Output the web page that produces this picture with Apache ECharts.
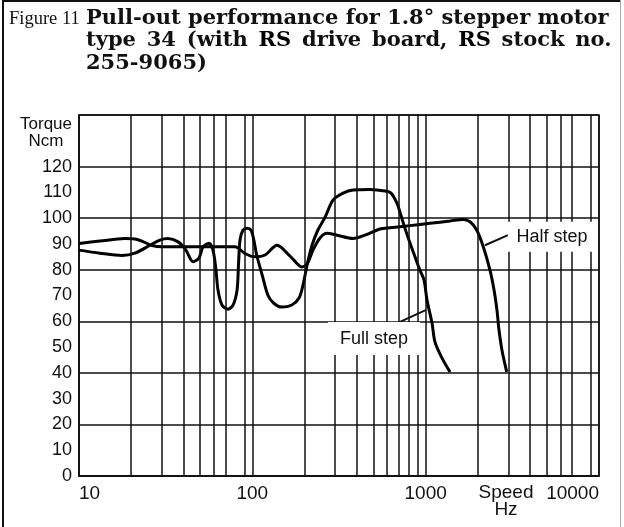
<!DOCTYPE html>
<html>
<head>
<meta charset="utf-8">
<script src="https://cdn.jsdelivr.net/npm/echarts@6/dist/echarts.min.js"></script>
<style>
  html, body { margin: 0; padding: 0; background: #fff; }
  #chart { width: 624px; height: 527px; }
</style>
</head>
<body>
<div id="chart"></div>
<script>
// speed in Hz, torque in Ncm
var fullFreq = [10, 13.2, 17.7, 21.0, 25.7, 29.3, 32.6, 37.3, 41.4, 45.5,
    49.2, 51.9, 56.2, 59.3, 61.7, 63.4, 66.8, 72.4, 77.4, 81.6,
    83.2, 84.9, 88.4, 93.2, 98.2, 102, 106, 114, 123, 133,
    148, 169, 186, 196, 207, 221, 239, 263, 292, 334,
    381, 477, 583, 631, 683, 711, 750, 801, 868, 927,
    978, 1018, 1088, 1132, 1243, 1382];
var fullTorque = [87.6, 86.4, 85.5, 86.4, 89.5, 91.5, 92.1, 90.8, 87.6, 83.1,
    84.5, 88.8, 90.3, 87.6, 79.8, 72, 66.3, 64.7, 66.3, 72,
    81.8, 91.5, 95.4, 96.1, 95.4, 91.5, 85.6, 77.9, 70.1, 67,
    65.5, 66.3, 69, 74, 81.8, 89.5, 95.4, 100.4, 107, 109.7,
    110.9, 111.1, 110.5, 109.7, 105.8, 102.3, 97.2, 91.5, 85, 79.8,
    76, 68.2, 59.3, 51.9, 45.7, 40.3];

var halfFreq = [10, 13.2, 18.4, 21.0, 23.4, 26.4, 30.1, 49.9, 79.4, 90.7,
    103.6, 118.4, 138.8, 165, 193.4, 206.8, 223.9, 245.7, 269.7, 307.9,
    381, 446.7, 545.3, 622, 812, 1059, 1382, 1642, 1803, 1970,
    2150, 2350, 2480, 2579, 2649, 2756, 2934];
var halfTorque = [90.2, 91.1, 92.1, 91.9, 90.9, 89.4, 88.9, 88.9, 88.9, 86.3,
    85, 85.7, 89.5, 85.3, 81.1, 82.2, 87.6, 92.3, 94.1, 93.4,
    92.1, 93.4, 95.8, 96.3, 97.1, 98, 98.9, 99.5, 98.6, 95.4,
    88.9, 79.8, 72.1, 64.3, 56.6, 48.8, 40.4];

// axis ticks
var speedLabels = [10, 100, 1000, 10000];
var torqueLabels = [0, 10, 20, 30, 40, 50, 60, 70, 80, 90, 100, 110, 120];
// the printed grid (80 and 8000 lines are missing in the original)
var speedGrid = [20, 30, 40, 50, 60, 70, 90, 200, 300, 400, 500, 600, 700, 800, 900,
    2000, 3000, 4000, 5000, 6000, 7000, 9000];

// curve labels and their leader lines, in data units
var fullLabelAt = [503, 53.3];
var fullLeader = [[681, 59.2], [1000, 64.3]];
var halfLabelAt = [5350, 92.8];
var halfLeader = [[2199, 89.5], [2985, 93.4]];

function zip(xs, ys) {
    var out = [];
    for (var i = 0; i < xs.length; i++) out.push([xs[i], ys[i]]);
    return out;
}

var sans = 'Liberation Sans';
var serif = 'DejaVu Serif';
var ink = '#111';

// second caption line is justified in print: words joined by wider spaces
var line2 = ['type', '34', '(with', '{rs|RS}', 'drive', 'board,', '{rs|RS}', 'stock', 'no.'];
var line2Rich = line2.map(function (w) {
    return w.charAt(0) === '{' ? w : '{b|' + w + '}';
}).join('{s| }');

var chart = echarts.init(document.getElementById('chart'));

var option = {
    animation: false,
    backgroundColor: '#fff',
    title: [
        {
            text: 'Figure 11',
            left: 9, top: 8, padding: 0,
            textStyle: { fontFamily: 'Liberation Serif', fontWeight: 'normal', fontSize: 18.5, color: ink, lineHeight: 22.5 }
        },
        {
            text: '{b|Pull-out performance for 1.8° stepper motor}\n' +
                  line2Rich + '\n' +
                  '{b|255-9065)}',
            left: 86, top: 7, padding: 0,
            textStyle: {
                rich: {
                    b: { fontFamily: serif, fontWeight: 'bold', fontSize: 21, color: ink, lineHeight: 22.5 },
                    rs: { fontFamily: serif, fontWeight: 900, fontSize: 21, color: '#000', lineHeight: 22.5 },
                    s: { fontFamily: serif, fontWeight: 'bold', fontSize: 21, lineHeight: 22.5, width: 10.8 }
                }
            }
        }
    ],
    graphic: [
        { type: 'line', shape: { x1: 3, y1: 0, x2: 3, y2: 527 }, style: { stroke: ink, lineWidth: 2 } },
        { type: 'line', shape: { x1: 2, y1: 1, x2: 621, y2: 1 }, style: { stroke: ink, lineWidth: 2 } },
        { type: 'line', shape: { x1: 620.5, y1: 0, x2: 620.5, y2: 527 }, style: { stroke: '#aaa', lineWidth: 1 } }
    ],
    grid: {
        left: 79, right: 25, top: 115, bottom: 51,
        show: true, borderColor: ink, borderWidth: 1.5
    },
    xAxis: {
        type: 'log', logBase: 10,
        min: speedLabels[0], max: speedLabels[speedLabels.length - 1],
        name: 'Speed\nHz',
        nameLocation: 'end',
        nameGap: -93,
        nameTextStyle: {
            fontFamily: sans, fontSize: 19, color: ink, lineHeight: 17,
            align: 'center', verticalAlign: 'top', padding: [8, 0, 0, 0]
        },
        axisLine: { show: true, lineStyle: { color: ink, width: 1.5 } },
        axisTick: { show: false },
        axisLabel: {
            fontFamily: sans, fontSize: 19, color: ink, margin: 8,
            alignMinLabel: 'left', alignMaxLabel: 'right',
            formatter: function (v) { return speedLabels.indexOf(v) >= 0 ? String(v) : ''; }
        },
        splitLine: { show: true, lineStyle: { color: ink, width: 1.5 } }
    },
    yAxis: [
        {
            type: 'value', min: 0, max: 140, interval: 10,
            name: 'Torque\nNcm',
            nameLocation: 'end',
            nameGap: -1,
            nameTextStyle: {
                fontFamily: sans, fontSize: 17, color: ink, lineHeight: 17,
                align: 'center', verticalAlign: 'top', padding: [0, 66, 0, 0]
            },
            axisLine: { show: true, lineStyle: { color: ink, width: 1.5 } },
            axisTick: { show: false },
            axisLabel: {
                fontFamily: sans, fontSize: 18, color: ink, margin: 7,
                formatter: function (v) { return torqueLabels.indexOf(v) >= 0 ? String(v) : ''; }
            },
            splitLine: { show: false }
        },
        {
            type: 'value', min: 0, max: 140, interval: 20, position: 'left',
            axisLine: { show: false }, axisTick: { show: false }, axisLabel: { show: false },
            splitLine: { show: true, lineStyle: { color: ink, width: 1.5 } }
        }
    ],
    series: [
        {
            name: 'grid',
            type: 'line',
            data: [],
            z: 1,
            silent: true,
            markLine: {
                silent: true,
                animation: false,
                symbol: ['none', 'none'],
                label: { show: false },
                lineStyle: { color: ink, width: 1.5, type: 'solid' },
                emphasis: { disabled: true },
                data: speedGrid.map(function (v) { return { xAxis: v }; })
            }
        },
        {
            name: 'Full step',
            type: 'line',
            data: zip(fullFreq, fullTorque),
            showSymbol: false,
            smooth: 0.3,
            z: 3,
            lineStyle: { color: '#000', width: 3 },
            markPoint: {
                silent: true,
                symbol: 'rect',
                symbolSize: [92, 33],
                itemStyle: { color: '#fff' },
                label: { show: true, position: 'inside', color: ink, fontFamily: sans, fontSize: 18, formatter: 'Full step' },
                data: [{ coord: fullLabelAt }]
            },
            markLine: {
                silent: true,
                symbol: ['none', 'none'],
                label: { show: false },
                lineStyle: { color: ink, width: 2, type: 'solid' },
                data: [[{ coord: fullLeader[0] }, { coord: fullLeader[1] }]]
            }
        },
        {
            name: 'Half step',
            type: 'line',
            data: zip(halfFreq, halfTorque),
            showSymbol: false,
            smooth: 0.3,
            z: 3,
            lineStyle: { color: '#000', width: 3 },
            markPoint: {
                silent: true,
                symbol: 'rect',
                symbolSize: [88, 30],
                itemStyle: { color: '#fff' },
                label: { show: true, position: 'inside', color: ink, fontFamily: sans, fontSize: 18, formatter: 'Half step' },
                data: [{ coord: halfLabelAt }]
            },
            markLine: {
                silent: true,
                symbol: ['none', 'none'],
                label: { show: false },
                lineStyle: { color: ink, width: 2, type: 'solid' },
                data: [[{ coord: halfLeader[0] }, { coord: halfLeader[1] }]]
            }
        }
    ]
};

chart.setOption(option);
</script>
</body>
</html>
